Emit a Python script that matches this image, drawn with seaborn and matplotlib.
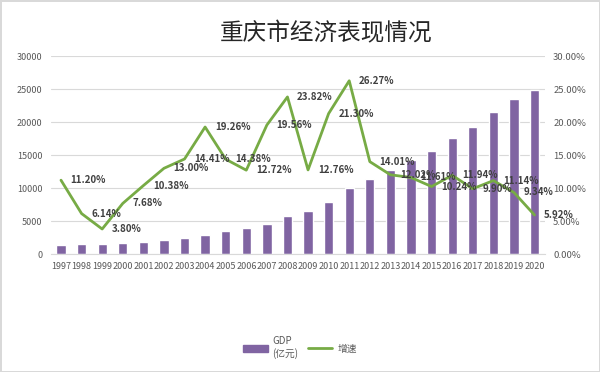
import numpy as np
import pandas as pd
import seaborn as sns
import matplotlib.pyplot as plt
from matplotlib.ticker import FuncFormatter
from matplotlib.patches import Patch
from matplotlib.lines import Line2D

# data
years = [str(y) for y in range(1997, 2021)]
gdp = [1360, 1500, 1560, 1700, 1900, 2200, 2500, 2900, 3450, 3900, 4600, 5700,
       6500, 7900, 10000, 11400, 12700, 14200, 15700, 17600, 19300, 21500, 23500, 24900]
growth = [11.20, 6.14, 3.80, 7.68, 10.38, 13.00, 14.41, 19.26, 14.38, 12.72, 19.56, 23.82,
          12.76, 21.30, 26.27, 14.01, 12.02, 11.61, 10.24, 11.94, 9.90, 11.14, 9.34, 5.92]

df = pd.DataFrame({'year': years, 'gdp': gdp, 'growth': growth})

sns.set_style('white')
plt.rcParams['font.family'] = ['Noto Sans CJK SC', 'DejaVu Sans']

purple = '#8064a2'
green = '#77ab45'
grid_c = '#d9d9d9'
tick_c = '#595959'

fig = plt.figure(figsize=(6, 3.72), dpi=100)
fig.patch.set_edgecolor('#d9d9d9')
fig.patch.set_linewidth(2)
ax = fig.add_axes([0.0845, 0.317, 0.8235, 0.532])

sns.barplot(data=df, x='year', y='gdp', color=purple, width=0.45, ax=ax,
            saturation=1, zorder=2)
ax.set_ylim(0, 30000)
ax.set_yticks(range(0, 30001, 5000))
ax.yaxis.grid(True, color=grid_c, linewidth=0.8, zorder=0)
ax.set_axisbelow(True)
for s in ['top', 'right', 'left']:
    ax.spines[s].set_visible(False)
ax.spines['bottom'].set_color(grid_c)
ax.set_xlabel('')
ax.set_ylabel('')
ax.tick_params(axis='both', length=0, labelsize=6.5, colors=tick_c, pad=6)

ax2 = ax.twinx()
pos = np.arange(len(df))
sns.lineplot(x=pos, y=df['growth'] / 100, color=green, linewidth=2, ax=ax2)
ax2.set_ylim(0, 0.30)
ax2.set_yticks(np.arange(0, 0.301, 0.05))
ax2.yaxis.set_major_formatter(FuncFormatter(lambda v, p: f'{v*100:.2f}%'))
ax2.set_ylabel('')
for s in ax2.spines.values():
    s.set_visible(False)
ax2.tick_params(axis='y', length=0, labelsize=6.8, colors=tick_c, pad=6)
ax2.set_xlim(-0.5, len(df) - 0.5)

for i, g in enumerate(df['growth']):
    ax2.annotate(f'{g:.2f}%', (i, g / 100), xytext=(7, 0), textcoords='offset points',
                 ha='left', va='center', fontsize=7, fontweight='bold', color='#404040')

fig.text(0.543, 0.91, '重庆市经济表现情况', ha='center', va='center',
         fontsize=17, fontweight='medium', color='#262626')

handles = [Patch(color=purple, label='GDP\n(亿元)'),
           Line2D([0], [0], color=green, linewidth=2, label='增速')]
fig.legend(handles=handles, loc='center', bbox_to_anchor=(0.5, 0.065), ncol=2,
           frameon=False, fontsize=7, labelcolor=tick_c, handlelength=2.5,
           columnspacing=1.0, handletextpad=0.5)

fig.savefig('out.png', dpi=100)
